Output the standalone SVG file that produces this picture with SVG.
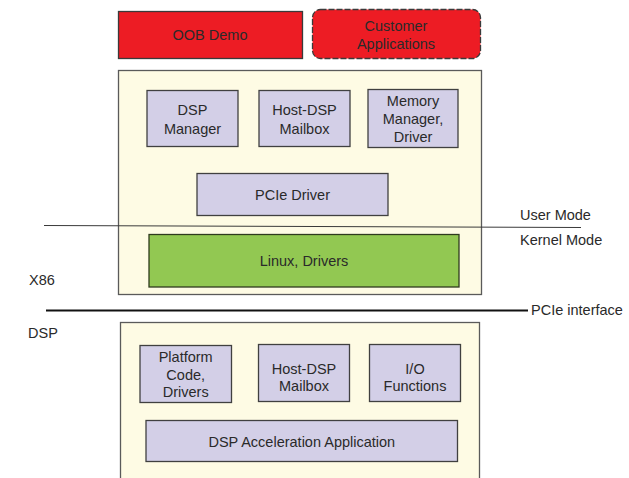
<svg xmlns="http://www.w3.org/2000/svg" width="629" height="478" viewBox="0 0 629 478">
  <style>
    text { font-family: "Liberation Sans", Arial, sans-serif; font-size: 14.5px; fill: #2a2a2a; }
    .c { text-anchor: middle; }
    .app { fill: #ed1c24; stroke: #3a3a3a; stroke-width: 1.3; }
    .layer { fill: #fefbe4; stroke: #5a5a5a; stroke-width: 1.3; }
    .mod { fill: #d3cfe7; stroke: #404040; stroke-width: 1.3; }
    .os { fill: #92c852; stroke: #2e3a1e; stroke-width: 1.3; }
  </style>
  <rect width="629" height="478" fill="#ffffff"/>

  <!-- Application layer -->
  <g id="oob-demo">
    <rect class="app" x="118.5" y="11.5" width="184" height="47"/>
    <text class="c" x="210" y="40">OOB Demo</text>
  </g>
  <g id="customer-apps">
    <rect class="app" x="312.5" y="9.5" width="168" height="49" rx="8" stroke-dasharray="6 2"/>
    <text class="c" x="396" y="31">Customer</text>
    <text class="c" x="396" y="48.5">Applications</text>
  </g>

  <!-- X86 host layer -->
  <g id="x86-host">
    <rect class="layer" x="118.5" y="70.5" width="363" height="224"/>
  </g>
  <g id="dsp-manager">
    <rect class="mod" x="147" y="90.5" width="91" height="56"/>
    <text class="c" x="192.5" y="115">DSP</text>
    <text class="c" x="192.5" y="133.5">Manager</text>
  </g>
  <g id="host-mailbox">
    <rect class="mod" x="259" y="90.5" width="91" height="56"/>
    <text class="c" x="304.5" y="115">Host-DSP</text>
    <text class="c" x="304.5" y="133.5">Mailbox</text>
  </g>
  <g id="memory-manager">
    <rect class="mod" x="368" y="89.5" width="90" height="58"/>
    <text class="c" x="413" y="105.5">Memory</text>
    <text class="c" x="413" y="124">Manager,</text>
    <text class="c" x="413" y="141.5">Driver</text>
  </g>
  <g id="pcie-driver">
    <rect class="mod" x="197" y="173.5" width="191" height="42"/>
    <text class="c" x="292.5" y="200">PCIe Driver</text>
  </g>
  <g id="linux-drivers">
    <rect class="os" x="149" y="234.5" width="310" height="52.5"/>
    <text class="c" x="304" y="265.5">Linux, Drivers</text>
  </g>

  <!-- DSP layer -->
  <g id="dsp-target">
    <rect class="layer" x="120.5" y="322.5" width="359" height="170"/>
  </g>
  <g id="platform-code">
    <rect class="mod" x="140" y="345.5" width="91.5" height="57"/>
    <text class="c" x="185.7" y="362">Platform</text>
    <text class="c" x="185.7" y="380">Code,</text>
    <text class="c" x="185.7" y="397">Drivers</text>
  </g>
  <g id="dsp-mailbox">
    <rect class="mod" x="258.5" y="344.5" width="91" height="57"/>
    <text class="c" x="304" y="373.5">Host-DSP</text>
    <text class="c" x="304" y="390.5">Mailbox</text>
  </g>
  <g id="io-functions">
    <rect class="mod" x="369.5" y="344.5" width="91" height="57"/>
    <text class="c" x="415" y="373.5">I/O</text>
    <text class="c" x="415" y="390.5">Functions</text>
  </g>
  <g id="dsp-accel-app">
    <rect class="mod" x="146" y="420.5" width="311.5" height="41"/>
    <text class="c" x="301.8" y="447">DSP Acceleration Application</text>
  </g>

  <!-- Boundary lines -->
  <g id="boundaries">
    <line x1="44" y1="225.5" x2="581" y2="227.5" stroke="#3a3a3a" stroke-width="1"/>
    <line x1="46" y1="310.5" x2="528" y2="310.5" stroke="#111111" stroke-width="2.2"/>
  </g>

  <!-- Boundary labels -->
  <g id="labels">
    <text x="520" y="219.5">User Mode</text>
    <text x="520" y="245">Kernel Mode</text>
    <text x="29" y="285">X86</text>
    <text x="531" y="315">PCIe interface</text>
    <text x="28" y="338">DSP</text>
  </g>
</svg>
